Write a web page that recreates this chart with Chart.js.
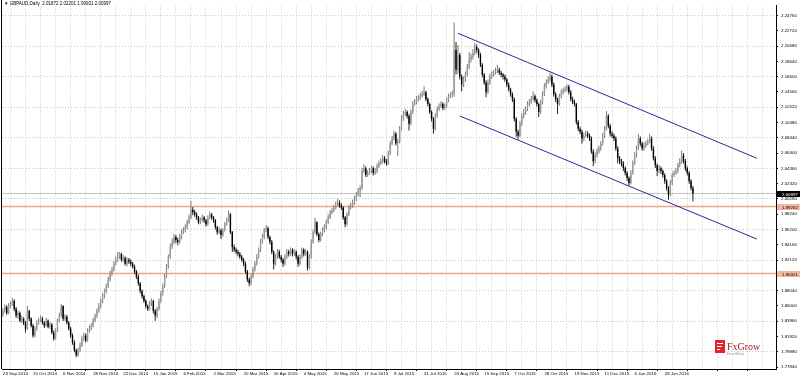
<!DOCTYPE html>
<html>
<head>
<meta charset="utf-8">
<script src="https://cdn.jsdelivr.net/npm/chart.js@4.4.1/dist/chart.umd.min.js"></script>
<style>
  html, body { margin: 0; padding: 0; background: #fff; }
  #wrap { position: relative; width: 800px; height: 376px; overflow: hidden; }
  #title { position: absolute; left: 4px; top: 1px; font: 9px "Liberation Sans", Arial, sans-serif; color: #000;
           white-space: nowrap; transform: scale(0.5); transform-origin: 0 0; }
  #logo { position: absolute; left: 715px; top: 340px; width: 60px; height: 22px; }
  #logo .ico { position: absolute; left: 0; top: 0; width: 10px; height: 13px; background: #e0262b; }
  #logo .ico i { position: absolute; left: 2px; height: 1px; background: #fff; }
  #logo .txt { position: absolute; left: 12px; top: 1px; font: 10px "Liberation Serif", serif; color: #9c1f25; white-space: nowrap; }
  #logo small { position: absolute; left: 12px; top: 12px; font: 6px "Liberation Sans", sans-serif; color: #b08080;
                transform: scale(0.5); transform-origin: 0 0; white-space: nowrap; }
</style>
</head>
<body>
<div id="wrap">
  <canvas id="c" width="800" height="376"></canvas>
  <div id="title">▼ GBPAUD,Daily&nbsp; 2.01872 2.02201 1.99931 2.00997</div>
  <div id="logo">
    <div class="ico"><i style="top:3px;width:6px"></i><i style="top:6px;width:5px"></i><i style="top:9px;width:3px"></i></div>
    <div class="txt">FxGrow</div>
    <small>Forex Broker</small>
  </div>
</div>
<script>
// date labels, one every 16 daily bars
const dateLabels = ['23 Sep 2014','15 Oct 2014','6 Nov 2014','28 Nov 2014','22 Dec 2014','15 Jan 2015','6 Feb 2015',
  '2 Mar 2015','20 Mar 2015','10 Apr 2015','4 May 2015','26 May 2015','17 Jun 2015','9 Jul 2015','31 Jul 2015',
  '24 Aug 2015','15 Sep 2015','7 Oct 2015','28 Oct 2015','19 Nov 2015','11 Dec 2015','6 Jan 2016','28 Jan 2016'];

// price scale labels on the right
const priceTicks = [1.77840,1.79880,1.81920,1.83960,1.86000,1.88040,1.90080,1.92120,1.94160,1.96200,1.98240,2.00280,
  2.02320,2.04360,2.06400,2.08440,2.10480,2.12520,2.14560,2.16600,2.18640,2.20680,2.22720,2.24760];

// GBPAUD daily candles
const opens = [
1.8480,1.8533,1.8585,1.8506,1.8599,1.8625,1.8664,1.8559,1.8467,1.8506,
1.8401,1.8427,1.8375,1.8296,1.8533,1.8427,1.8336,1.8204,1.8296,1.8375,
1.8401,1.8427,1.8375,1.8336,1.8401,1.8322,1.8349,1.8244,1.8165,1.8270,
1.8401,1.8467,1.8599,1.8427,1.8454,1.8375,1.8296,1.8204,1.8112,1.8007,
1.7941,1.8007,1.8073,1.8165,1.8204,1.8138,1.8270,1.8296,1.8336,1.8401,
1.8467,1.8533,1.8599,1.8664,1.8730,1.8796,1.8861,1.8953,1.9032,1.9085,
1.9164,1.9217,1.9256,1.9295,1.9217,1.9243,1.9164,1.9217,1.9190,1.9164,
1.9124,1.9058,1.8993,1.8901,1.8796,1.8730,1.8664,1.8599,1.8559,1.8638,
1.8664,1.8533,1.8467,1.8559,1.8664,1.8769,1.8861,1.8993,1.9124,1.9256,
1.9387,1.9453,1.9518,1.9479,1.9453,1.9518,1.9584,1.9610,1.9650,1.9716,
1.9781,1.9886,1.9847,1.9821,1.9781,1.9716,1.9742,1.9781,1.9742,1.9689,
1.9781,1.9821,1.9781,1.9742,1.9650,1.9584,1.9610,1.9545,1.9610,1.9689,
1.9742,1.9821,1.9584,1.9387,1.9348,1.9321,1.9295,1.9256,1.9217,1.9164,
1.9058,1.8953,1.8901,1.8993,1.9085,1.9164,1.9256,1.9348,1.9453,1.9518,
1.9610,1.9637,1.9518,1.9453,1.9321,1.9164,1.9256,1.9321,1.9256,1.9217,
1.9164,1.9256,1.9321,1.9295,1.9348,1.9295,1.9321,1.9256,1.9164,1.9256,
1.9348,1.9295,1.9321,1.9111,1.9256,1.9453,1.9584,1.9716,1.9558,1.9479,
1.9558,1.9610,1.9650,1.9716,1.9781,1.9847,1.9873,1.9913,1.9952,1.9978,
1.9939,1.9913,1.9781,1.9689,1.9821,1.9913,1.9939,1.9978,2.0031,2.0084,
2.0136,2.0175,2.0399,2.0438,2.0346,2.0373,2.0399,2.0438,2.0373,2.0399,
2.0465,2.0504,2.0530,2.0570,2.0530,2.0504,2.0636,2.0767,2.0833,2.0898,
2.0767,2.0793,2.0964,2.1096,2.1161,2.1188,2.1135,2.1030,2.1188,2.1293,
2.1319,2.1358,2.1372,2.1398,2.1424,2.1451,2.1358,2.1293,2.1188,2.1096,
2.0964,2.1135,2.1227,2.1266,2.1293,2.1240,2.1266,2.1345,2.1398,2.1411,
2.1424,2.2016,2.1753,2.1950,2.1661,2.1556,2.1621,2.1687,2.1792,2.1884,
2.1924,2.1976,2.2055,2.2016,2.1950,2.1818,2.1687,2.1582,2.1451,2.1582,
2.1661,2.1687,2.1713,2.1740,2.1753,2.1713,2.1687,2.1661,2.1621,2.1556,
2.1490,2.1424,2.1358,2.1096,2.0925,2.0872,2.1030,2.1135,2.1188,2.1227,
2.1293,2.1319,2.1358,2.1398,2.1345,2.1293,2.1188,2.1319,2.1424,2.1529,
2.1582,2.1621,2.1661,2.1556,2.1424,2.1358,2.1293,2.1398,2.1451,2.1477,
2.1490,2.1529,2.1451,2.1358,2.1319,2.1293,2.1056,2.0964,2.0925,2.0833,
2.0872,2.0898,2.0872,2.0833,2.0662,2.0530,2.0609,2.0662,2.0701,2.0767,
2.0872,2.0964,2.1135,2.1004,2.0898,2.0872,2.0833,2.0701,2.0570,2.0530,
2.0504,2.0438,2.0373,2.0307,2.0241,2.0373,2.0504,2.0609,2.0701,2.0833,
2.0767,2.0701,2.0741,2.0767,2.0793,2.0833,2.0701,2.0570,2.0478,2.0399,
2.0438,2.0399,2.0346,2.0268,2.0175,2.0084,2.0241,2.0346,2.0373,2.0399,
2.0478,2.0530,2.0609,2.0530,2.0438,2.0373,2.0268,2.0175];
const highs = [
1.8575,1.8620,1.8610,1.8640,1.8660,1.8705,1.8690,1.8585,1.8540,1.8525,
1.8470,1.8450,1.8400,1.8599,1.8550,1.8450,1.8360,1.8330,1.8410,1.8440,
1.8470,1.8455,1.8400,1.8440,1.8420,1.8380,1.8370,1.8270,1.8300,1.8430,
1.8510,1.8625,1.8610,1.8490,1.8480,1.8400,1.8320,1.8230,1.8140,1.8030,
1.8040,1.8110,1.8200,1.8240,1.8230,1.8300,1.8340,1.8370,1.8440,1.8500,
1.8570,1.8640,1.8700,1.8770,1.8830,1.8900,1.8990,1.9070,1.9120,1.9200,
1.9260,1.9321,1.9320,1.9310,1.9280,1.9260,1.9250,1.9240,1.9220,1.9190,
1.9150,1.9080,1.9020,1.8920,1.8820,1.8750,1.8690,1.8620,1.8670,1.8700,
1.8680,1.8560,1.8590,1.8700,1.8800,1.8900,1.9030,1.9160,1.9290,1.9430,
1.9500,1.9560,1.9545,1.9510,1.9560,1.9620,1.9650,1.9690,1.9750,1.9820,
2.0004,1.9920,1.9880,1.9850,1.9800,1.9780,1.9820,1.9800,1.9760,1.9810,
1.9860,1.9840,1.9800,1.9760,1.9670,1.9650,1.9630,1.9640,1.9720,1.9780,
1.9874,1.9840,1.9600,1.9420,1.9380,1.9350,1.9320,1.9280,1.9240,1.9190,
1.9080,1.8980,1.9030,1.9120,1.9200,1.9290,1.9380,1.9490,1.9560,1.9640,
1.9676,1.9660,1.9540,1.9480,1.9340,1.9290,1.9360,1.9350,1.9280,1.9240,
1.9290,1.9360,1.9350,1.9380,1.9370,1.9360,1.9340,1.9280,1.9290,1.9380,
1.9370,1.9360,1.9340,1.9290,1.9490,1.9620,1.9781,1.9730,1.9580,1.9590,
1.9650,1.9690,1.9750,1.9820,1.9880,1.9910,1.9950,1.9990,2.0030,2.0010,
1.9970,1.9930,1.9800,1.9850,1.9950,1.9980,2.0020,2.0070,2.0120,2.0175,
2.0210,2.0440,2.0490,2.0460,2.0410,2.0440,2.0470,2.0460,2.0440,2.0500,
2.0540,2.0570,2.0610,2.0600,2.0560,2.0670,2.0800,2.0870,2.0940,2.0920,
2.0830,2.1000,2.1140,2.1200,2.1230,2.1210,2.1160,2.1220,2.1330,2.1360,
2.1400,2.1410,2.1440,2.1470,2.1530,2.1470,2.1380,2.1310,2.1210,2.1120,
2.1170,2.1260,2.1300,2.1330,2.1320,2.1300,2.1380,2.1430,2.1450,2.1470,
2.2384,2.2121,2.2081,2.1980,2.1690,2.1660,2.1730,2.1830,2.1989,2.1970,
2.2030,2.2108,2.2090,2.2040,2.1980,2.1840,2.1710,2.1610,2.1620,2.1700,
2.1730,2.1750,2.1780,2.1818,2.1780,2.1740,2.1710,2.1690,2.1640,2.1580,
2.1510,2.1450,2.1380,2.1120,2.0950,2.1070,2.1170,2.1230,2.1260,2.1330,
2.1360,2.1400,2.1464,2.1420,2.1370,2.1310,2.1350,2.1460,2.1570,2.1620,
2.1660,2.1713,2.1690,2.1580,2.1450,2.1380,2.1430,2.1490,2.1510,2.1530,
2.1556,2.1550,2.1480,2.1390,2.1350,2.1310,2.1080,2.0990,2.0950,2.0910,
2.0940,2.0930,2.0900,2.0860,2.0690,2.0650,2.0700,2.0740,2.0800,2.0910,
2.1000,2.1201,2.1160,2.1030,2.0930,2.0900,2.0860,2.0730,2.0600,2.0560,
2.0530,2.0460,2.0400,2.0330,2.0410,2.0540,2.0650,2.0740,2.0898,2.0860,
2.0790,2.0780,2.0800,2.0830,2.0898,2.0860,2.0730,2.0600,2.0500,2.0480,
2.0460,2.0420,2.0370,2.0290,2.0200,2.0280,2.0380,2.0410,2.0440,2.0510,
2.0570,2.0675,2.0640,2.0560,2.0460,2.0400,2.0290,2.0201];
const lows = [
1.8455,1.8510,1.8480,1.8490,1.8570,1.8600,1.8530,1.8440,1.8430,1.8380,
1.8370,1.8345,1.8244,1.8280,1.8400,1.8310,1.8178,1.8180,1.8270,1.8350,
1.8385,1.8350,1.8305,1.8320,1.8300,1.8290,1.8220,1.8138,1.8150,1.8250,
1.8380,1.8450,1.8400,1.8400,1.8350,1.8270,1.8170,1.8080,1.7980,1.7915,
1.7925,1.7980,1.8050,1.8130,1.8110,1.8120,1.8240,1.8270,1.8310,1.8380,
1.8440,1.8510,1.8570,1.8640,1.8700,1.8770,1.8840,1.8930,1.9000,1.9060,
1.9140,1.9190,1.9230,1.9190,1.9190,1.9140,1.9130,1.9160,1.9130,1.9100,
1.9030,1.8960,1.8870,1.8770,1.8700,1.8640,1.8570,1.8533,1.8540,1.8600,
1.8500,1.8401,1.8440,1.8540,1.8640,1.8740,1.8840,1.8970,1.9100,1.9230,
1.9360,1.9420,1.9440,1.9410,1.9430,1.9490,1.9560,1.9580,1.9620,1.9690,
1.9760,1.9810,1.9790,1.9750,1.9690,1.9690,1.9720,1.9710,1.9660,1.9670,
1.9760,1.9750,1.9710,1.9620,1.9550,1.9560,1.9492,1.9520,1.9590,1.9670,
1.9720,1.9560,1.9321,1.9320,1.9290,1.9260,1.9230,1.9190,1.9130,1.9030,
1.8920,1.8861,1.8880,1.8970,1.9060,1.9140,1.9230,1.9320,1.9430,1.9490,
1.9580,1.9490,1.9420,1.9290,1.9085,1.9140,1.9230,1.9230,1.9180,1.9124,
1.9140,1.9230,1.9260,1.9270,1.9260,1.9270,1.9220,1.9124,1.9140,1.9230,
1.9260,1.9270,1.9072,1.9090,1.9230,1.9430,1.9560,1.9530,1.9450,1.9460,
1.9530,1.9580,1.9620,1.9690,1.9760,1.9820,1.9850,1.9890,1.9930,1.9910,
1.9880,1.9750,1.9650,1.9670,1.9800,1.9890,1.9910,1.9950,2.0000,2.0060,
2.0050,2.0150,2.0370,2.0320,2.0320,2.0350,2.0370,2.0340,2.0350,2.0370,
2.0440,2.0480,2.0500,2.0500,2.0470,2.0480,2.0610,2.0740,2.0810,2.0740,
2.0600,2.0770,2.0940,2.1070,2.1130,2.1100,2.0940,2.1010,2.1160,2.1270,
2.1290,2.1330,2.1350,2.1380,2.1400,2.1330,2.1260,2.1160,2.1060,2.0898,
2.0940,2.1110,2.1200,2.1240,2.1210,2.1210,2.1240,2.1320,2.1370,2.1380,
2.1390,2.1687,2.1700,2.1620,2.1464,2.1520,2.1590,2.1660,2.1760,2.1850,
2.1890,2.1950,2.1980,2.1910,2.1790,2.1650,2.1550,2.1385,2.1430,2.1550,
2.1630,2.1660,2.1690,2.1710,2.1680,2.1650,2.1620,2.1590,2.1520,2.1460,
2.1390,2.1320,2.1060,2.0859,2.0820,2.0850,2.1000,2.1100,2.1150,2.1200,
2.1260,2.1290,2.1330,2.1310,2.1260,2.1122,2.1160,2.1290,2.1400,2.1500,
2.1560,2.1590,2.1520,2.1390,2.1320,2.1161,2.1270,2.1370,2.1420,2.1450,
2.1460,2.1420,2.1330,2.1290,2.1260,2.1020,2.0930,2.0890,2.0767,2.0800,
2.0850,2.0840,2.0800,2.0630,2.0465,2.0500,2.0580,2.0630,2.0670,2.0740,
2.0840,2.0940,2.0970,2.0860,2.0840,2.0800,2.0670,2.0504,2.0490,2.0460,
2.0400,2.0340,2.0270,2.0202,2.0220,2.0350,2.0480,2.0580,2.0680,2.0730,
2.0670,2.0670,2.0710,2.0740,2.0770,2.0670,2.0540,2.0440,2.0333,2.0370,
2.0360,2.0310,2.0230,2.0140,2.0018,2.0060,2.0210,2.0320,2.0350,2.0370,
2.0450,2.0500,2.0500,2.0400,2.0340,2.0230,2.0140,1.9993];
const closes = [
1.8533,1.8585,1.8506,1.8599,1.8625,1.8664,1.8559,1.8467,1.8506,1.8401,
1.8427,1.8375,1.8296,1.8533,1.8427,1.8336,1.8204,1.8296,1.8375,1.8401,
1.8427,1.8375,1.8336,1.8401,1.8322,1.8349,1.8244,1.8165,1.8270,1.8401,
1.8467,1.8599,1.8427,1.8454,1.8375,1.8296,1.8204,1.8112,1.8007,1.7941,
1.8007,1.8073,1.8165,1.8204,1.8138,1.8270,1.8296,1.8336,1.8401,1.8467,
1.8533,1.8599,1.8664,1.8730,1.8796,1.8861,1.8953,1.9032,1.9085,1.9164,
1.9217,1.9256,1.9295,1.9217,1.9243,1.9164,1.9217,1.9190,1.9164,1.9124,
1.9058,1.8993,1.8901,1.8796,1.8730,1.8664,1.8599,1.8559,1.8638,1.8664,
1.8533,1.8467,1.8559,1.8664,1.8769,1.8861,1.8993,1.9124,1.9256,1.9387,
1.9453,1.9518,1.9479,1.9453,1.9518,1.9584,1.9610,1.9650,1.9716,1.9781,
1.9886,1.9847,1.9821,1.9781,1.9716,1.9742,1.9781,1.9742,1.9689,1.9781,
1.9821,1.9781,1.9742,1.9650,1.9584,1.9610,1.9545,1.9610,1.9689,1.9742,
1.9821,1.9584,1.9387,1.9348,1.9321,1.9295,1.9256,1.9217,1.9164,1.9058,
1.8953,1.8901,1.8993,1.9085,1.9164,1.9256,1.9348,1.9453,1.9518,1.9610,
1.9637,1.9518,1.9453,1.9321,1.9164,1.9256,1.9321,1.9256,1.9217,1.9164,
1.9256,1.9321,1.9295,1.9348,1.9295,1.9321,1.9256,1.9164,1.9256,1.9348,
1.9295,1.9321,1.9111,1.9256,1.9453,1.9584,1.9716,1.9558,1.9479,1.9558,
1.9610,1.9650,1.9716,1.9781,1.9847,1.9873,1.9913,1.9952,1.9978,1.9939,
1.9913,1.9781,1.9689,1.9821,1.9913,1.9939,1.9978,2.0031,2.0084,2.0136,
2.0175,2.0399,2.0438,2.0346,2.0373,2.0399,2.0438,2.0373,2.0399,2.0465,
2.0504,2.0530,2.0570,2.0530,2.0504,2.0636,2.0767,2.0833,2.0898,2.0767,
2.0793,2.0964,2.1096,2.1161,2.1188,2.1135,2.1030,2.1188,2.1293,2.1319,
2.1358,2.1372,2.1398,2.1424,2.1451,2.1358,2.1293,2.1188,2.1096,2.0964,
2.1135,2.1227,2.1266,2.1293,2.1240,2.1266,2.1345,2.1398,2.1411,2.1424,
2.2016,2.1753,2.1950,2.1661,2.1556,2.1621,2.1687,2.1792,2.1884,2.1924,
2.1976,2.2055,2.2016,2.1950,2.1818,2.1687,2.1582,2.1451,2.1582,2.1661,
2.1687,2.1713,2.1740,2.1753,2.1713,2.1687,2.1661,2.1621,2.1556,2.1490,
2.1424,2.1358,2.1096,2.0925,2.0872,2.1030,2.1135,2.1188,2.1227,2.1293,
2.1319,2.1358,2.1398,2.1345,2.1293,2.1188,2.1319,2.1424,2.1529,2.1582,
2.1621,2.1661,2.1556,2.1424,2.1358,2.1293,2.1398,2.1451,2.1477,2.1490,
2.1529,2.1451,2.1358,2.1319,2.1293,2.1056,2.0964,2.0925,2.0833,2.0872,
2.0898,2.0872,2.0833,2.0662,2.0530,2.0609,2.0662,2.0701,2.0767,2.0872,
2.0964,2.1135,2.1004,2.0898,2.0872,2.0833,2.0701,2.0570,2.0530,2.0504,
2.0438,2.0373,2.0307,2.0241,2.0373,2.0504,2.0609,2.0701,2.0833,2.0767,
2.0701,2.0741,2.0767,2.0793,2.0833,2.0701,2.0570,2.0478,2.0399,2.0438,
2.0399,2.0346,2.0268,2.0175,2.0084,2.0241,2.0346,2.0373,2.0399,2.0478,
2.0530,2.0609,2.0530,2.0438,2.0373,2.0268,2.0175,2.00997];

// hand-drawn objects: descending channel and two horizontal levels
const channelUpper = [{x: 242, y: 2.2239}, {x: 401, y: 2.0570}];
const channelLower = [{x: 243, y: 2.1135}, {x: 401, y: 1.9492}];
const levels = [1.99262, 1.90321];

const xMin = -0.5, xMax = 411.2;
const yMin = 1.77577, yMax = 2.26074;
const lastClose = closes[closes.length - 1];
const isBull = i => closes[i] >= opens[i];

const wickData = highs.map((h, i) => ({x: i, y: [lows[i], h]}));
const bodyData = opens.map((o, i) => ({x: i, y: [o, closes[i]]}));
const hLine = v => [{x: xMin, y: v}, {x: xMax, y: v}];

const xTicks = [];
for (let i = 0; i <= 408; i += 8) xTicks.push(i);

const font = {family: '"Liberation Sans", Arial, sans-serif', size: 4.4};

// price boxes on the axis and the left frame line
const axisBoxes = {
  id: 'axisBoxes',
  afterDraw(chart) {
    const {ctx, chartArea, scales} = chart;
    const box = (v, bg, fg) => {
      const py = Math.round(scales.y.getPixelForValue(v));
      ctx.fillStyle = bg;
      ctx.fillRect(chartArea.right + 1, py - 3, 23, 6);
      ctx.fillStyle = fg;
      ctx.font = '4.4px "Liberation Sans", Arial, sans-serif';
      ctx.textBaseline = 'middle';
      ctx.textAlign = 'left';
      ctx.fillText(v.toFixed(5), chartArea.right + 6, py + 0.5);
    };
    ctx.save();
    levels.forEach(v => box(v, '#f3b8a0', '#000'));
    box(lastClose, '#000', '#fff');
    ctx.strokeStyle = '#000';
    ctx.lineWidth = 1;
    ctx.beginPath();
    ctx.moveTo(1.5, 0);
    ctx.lineTo(1.5, chartArea.bottom);
    ctx.stroke();
    ctx.restore();
  }
};

new Chart(document.getElementById('c'), {
  type: 'bar',
  data: {
    datasets: [
      {data: bodyData, barThickness: 1.4, grouped: false, order: 1, borderWidth: 0, inflateAmount: 0,
       backgroundColor: c => isBull(c.dataIndex) ? '#9a9a9a' : '#000'},
      {data: wickData, barThickness: 1, grouped: false, order: 2, borderWidth: 0, inflateAmount: 0,
       backgroundColor: c => isBull(c.dataIndex) ? '#7a7a7a' : '#222'},
      {type: 'line', data: channelUpper, borderColor: '#2a2a96', borderWidth: 1, pointRadius: 0, order: 3},
      {type: 'line', data: channelLower, borderColor: '#2a2a96', borderWidth: 1, pointRadius: 0, order: 3},
      {type: 'line', data: hLine(levels[0]), borderColor: '#eda58a', borderWidth: 1.6, pointRadius: 0, order: 4},
      {type: 'line', data: hLine(levels[1]), borderColor: '#eda58a', borderWidth: 1.6, pointRadius: 0, order: 4},
      {type: 'line', data: hLine(lastClose), borderColor: '#c4c4c4', borderWidth: 1, pointRadius: 0, order: 5}
    ]
  },
  options: {
    responsive: false,
    animation: false,
    devicePixelRatio: 1,
    layout: {padding: {left: 2, right: 0, top: 0, bottom: 0}},
    plugins: {legend: {display: false}, tooltip: {enabled: false}},
    scales: {
      x: {
        type: 'linear', min: xMin, max: xMax, offset: false,
        afterBuildTicks: s => { s.ticks = xTicks.map(v => ({value: v})); },
        afterFit: s => { s.height = 7; },
        grid: {color: '#c8c8c8', lineWidth: 1, drawTicks: true, tickLength: 2,
               tickColor: c => (c.tick && c.tick.value % 16 === 0) ? '#000' : 'transparent'},
        border: {display: true, color: '#000', width: 1, dash: [1, 2]},
        ticks: {autoSkip: false, maxRotation: 0, minRotation: 0, align: 'start', padding: 0, color: '#000', font,
                callback: v => v % 16 === 0 ? (dateLabels[v / 16] || '') : ''}
      },
      y: {
        type: 'linear', position: 'right', min: yMin, max: yMax,
        afterBuildTicks: s => { s.ticks = priceTicks.map(v => ({value: v})); },
        afterFit: s => { s.width = 24; },
        grid: {color: c => c.index % 2 === 1 ? '#c8c8c8' : 'transparent', lineWidth: 1,
               drawTicks: true, tickLength: 2, tickColor: '#000'},
        border: {display: true, color: '#000', width: 1, dash: [1, 2]},
        ticks: {padding: 3, color: '#000', font, callback: v => v.toFixed(5)}
      }
    }
  },
  plugins: [axisBoxes]
});
</script>
</body>
</html>
